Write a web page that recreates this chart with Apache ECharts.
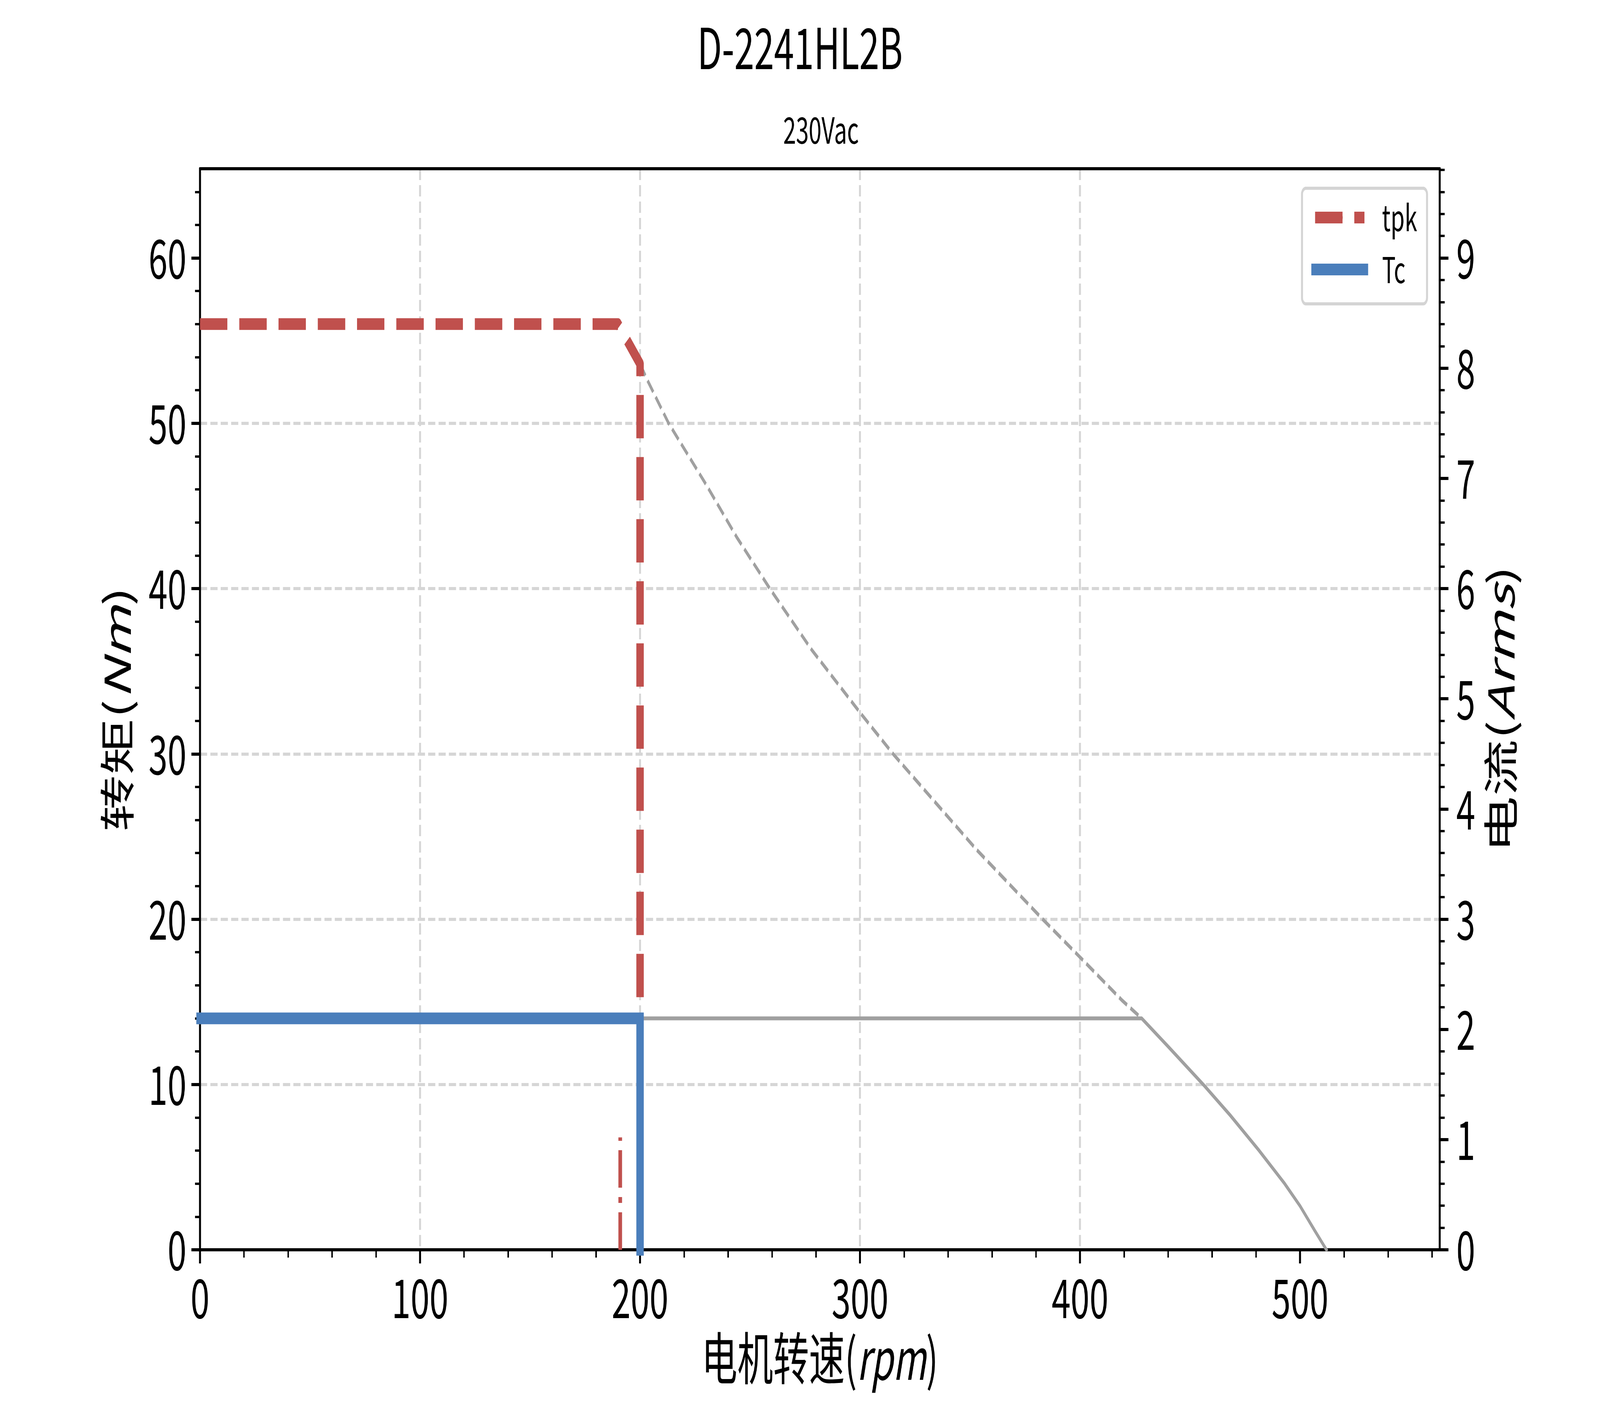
<!DOCTYPE html>
<html><head><meta charset="utf-8">
<script src="https://cdn.jsdelivr.net/npm/echarts@6.0.0/dist/echarts.min.js"></script>
<style>html,body{margin:0;padding:0;background:#fff;overflow:hidden}#c{width:6480px;height:3600px;transform-origin:0 0}</style>
</head><body><div id="c"></div>
<script>
// ---- data ----
const titleText = 'D-2241HL2B';
const subTitleText = '230Vac';
const xTicks = [0, 100, 200, 300, 400, 500];
const yLeftTicks = [0, 10, 20, 30, 40, 50, 60];
const yRightTicks = [0, 1, 2, 3, 4, 5, 6, 7, 8, 9];
const xMax = 563.5, yLeftMax = 65.4, yRightMax = 9.81;
// tpk: peak torque curve (rpm, Nm)
const tpkData = [[0, 56], [190, 56], [200, 53.6], [200, 14]];
// Tc: continuous torque (rpm, Nm)
const tcData = [[0, 14], [200, 14], [200, 0]];
// short dash-dot marker
const markerData = [[191, 0], [191, 6.8]];
// grey dashed peak envelope
const peakEnvelope = [[200, 53.6], [203, 52.7], [213, 50.0], [230, 46.3], [244, 43.1], [259, 40.0], [278, 36.3], [300, 32.5], [315, 30.0], [353, 24.2], [383, 20.0], [400, 17.7], [419, 15.1], [428, 14.0]];
// grey solid continuous envelope
const contEnvelope = [[200, 14], [428, 14], [440, 12.3], [456, 10.0], [468.5, 8.1], [481.4, 6.0], [493, 4.0], [500, 2.65], [506.5, 1.2], [512, 0]];

// minor tick positions
const xMinor = [], yLeftMinor = [], yRightMinor = [];
for (let v = 20; v < xMax; v += 20) if (v % 100 !== 0) xMinor.push(v);
for (let v = 2; v < yLeftMax; v += 2) if (v % 10 !== 0) yLeftMinor.push(v);
for (let i = 1; i * 0.2 < yRightMax; i++) if (i % 5 !== 0) yRightMinor.push(Math.round(i * 2) / 10);

// The chart is laid out for a 6480x3600 page; if the actual window differs, fit it to the window.
const W = 6480, H = 3600;
const el = document.getElementById('c');
const sx = (window.innerWidth || W) / W, sy = (window.innerHeight || H) / H;
if (Math.abs(sx - 1) > 0.001 || Math.abs(sy - 1) > 0.001) el.style.transform = 'scale(' + sx + ',' + sy + ')';

const F = '"Noto Sans CJK SC", "Noto Sans", sans-serif';
const RED = '#c0504d', BLUE = '#4a7ebb', GREY = '#a0a0a0', GRID = '#d6d6d6';
const axisLineStyle = { color: '#000', width: 8 };
const majorTick = (vals) => ({ show: true, customValues: vals, length: 35, inside: false, lineStyle: { color: '#000', width: 8 } });
const minorTickCfg = (vals) => ({ show: true, customValues: vals, length: 20, inside: false, lineStyle: { color: '#000', width: 6 } });
const splitCfg = { show: true, showMinLine: false, showMaxLine: false, lineStyle: { color: GRID, width: 8, type: [29, 13] } };
const nameRich = {
  a: { fontSize: 145, fontFamily: F, color: '#000' },
  b: { fontSize: 145, fontFamily: F, color: '#000', fontStyle: 'italic' }
};
const labelCfg = (vals, margin) => ({ show: true, customValues: vals, margin: margin, fontSize: 138, fontFamily: F, color: '#000' });

const chart = echarts.init(el, null, { renderer: 'canvas', width: W, height: H });
chart.setOption({
  backgroundColor: '#fff',
  animation: false,
  title: [
    { text: titleText, left: 'center', top: 44, textStyle: { fontSize: 145, fontWeight: 'normal', fontFamily: F, color: '#000' } },
    { text: subTitleText, left: 3320, textAlign: 'center', top: 281, textStyle: { fontSize: 93, fontWeight: 'normal', fontFamily: F, color: '#000' } }
  ],
  grid: { left: 810, right: 649, top: 432, bottom: 400, containLabel: false },
  legend: {
    data: ['tpk', 'Tc'],
    orient: 'vertical',
    left: 5273, top: 482,
    padding: [29, 40, 42, 38],
    itemGap: 41,
    itemWidth: 200, itemHeight: 30,
    backgroundColor: 'rgba(255,255,255,0.8)',
    borderColor: '#d4d4d4', borderWidth: 8, borderRadius: 16,
    lineStyle: { width: 30 },
    textStyle: { fontSize: 92, fontFamily: F, color: '#000', lineHeight: 92, padding: [0, 0, 0, 66] }
  },
  xAxis: [
    {
      type: 'value', min: 0, max: xMax, interval: 100, position: 'bottom',
      axisLine: { show: true, onZero: false, lineStyle: axisLineStyle },
      axisTick: majorTick(xTicks), axisLabel: labelCfg(xTicks, 54),
      splitLine: splitCfg,
      name: '{a|电机转速(}{b|rpm}{a|)}', nameLocation: 'middle', nameGap: 205,
      nameTextStyle: { fontSize: 145, fontFamily: F, color: '#000', rich: nameRich }
    },
    {
      type: 'value', min: 0, max: xMax, interval: 20, position: 'bottom',
      axisLine: { show: false, onZero: false }, axisTick: minorTickCfg(xMinor),
      axisLabel: { show: false }, splitLine: { show: false }
    },
    {
      type: 'value', min: 0, max: xMax, interval: 100, position: 'top',
      axisLine: { show: true, onZero: false, lineStyle: axisLineStyle },
      axisTick: { show: false }, axisLabel: { show: false }, splitLine: { show: false }
    }
  ],
  yAxis: [
    {
      type: 'value', min: 0, max: yLeftMax, interval: 10, position: 'left',
      axisLine: { show: true, onZero: false, lineStyle: axisLineStyle },
      axisTick: majorTick(yLeftTicks), axisLabel: labelCfg(yLeftTicks, 55),
      splitLine: splitCfg,
      name: '{a|转矩(}{b|Nm}{a|)}', nameLocation: 'middle', nameGap: 263, nameRotate: 90,
      nameTextStyle: { fontSize: 145, fontFamily: F, color: '#000', rich: nameRich }
    },
    {
      type: 'value', min: 0, max: yLeftMax, interval: 2, position: 'left',
      axisLine: { show: false, onZero: false }, axisTick: minorTickCfg(yLeftMinor),
      axisLabel: { show: false }, splitLine: { show: false }
    },
    {
      type: 'value', min: 0, max: yRightMax, interval: 1, position: 'right',
      axisLine: { show: true, onZero: false, lineStyle: axisLineStyle },
      axisTick: majorTick(yRightTicks), axisLabel: labelCfg(yRightTicks, 67),
      splitLine: { show: false },
      name: '{a|电流(}{b|Arms}{a|)}', nameLocation: 'middle', nameGap: 175, nameRotate: 90,
      nameTextStyle: { fontSize: 145, fontFamily: F, color: '#000', rich: nameRich }
    },
    {
      type: 'value', min: 0, max: yRightMax, interval: 0.2, position: 'right',
      axisLine: { show: false, onZero: false }, axisTick: minorTickCfg(yRightMinor),
      axisLabel: { show: false }, splitLine: { show: false }
    }
  ],
  series: [
    { name: 'peakEnvelope', type: 'line', data: peakEnvelope, symbol: 'none', silent: true,
      lineStyle: { color: GREY, width: 10, type: [37, 16], cap: 'butt', join: 'round' } },
    { name: 'contEnvelope', type: 'line', data: contEnvelope, symbol: 'none', silent: true,
      lineStyle: { color: GREY, width: 10, type: 'solid', cap: 'square', join: 'round' } },
    { name: 'marker', type: 'line', data: markerData, symbol: 'none', silent: true,
      lineStyle: { color: RED, width: 15, type: [96, 24, 15, 24], cap: 'butt' } },
    { name: 'tpk', type: 'line', data: tpkData, symbol: 'none', color: RED,
      lineStyle: { color: RED, width: 30, type: [111, 48], cap: 'butt', join: 'round' } },
    { name: 'Tc', type: 'line', data: tcData, symbol: 'none', color: BLUE,
      lineStyle: { color: BLUE, width: 30, type: 'solid', cap: 'square', join: 'miter' } }
  ]
});
</script></body></html>
